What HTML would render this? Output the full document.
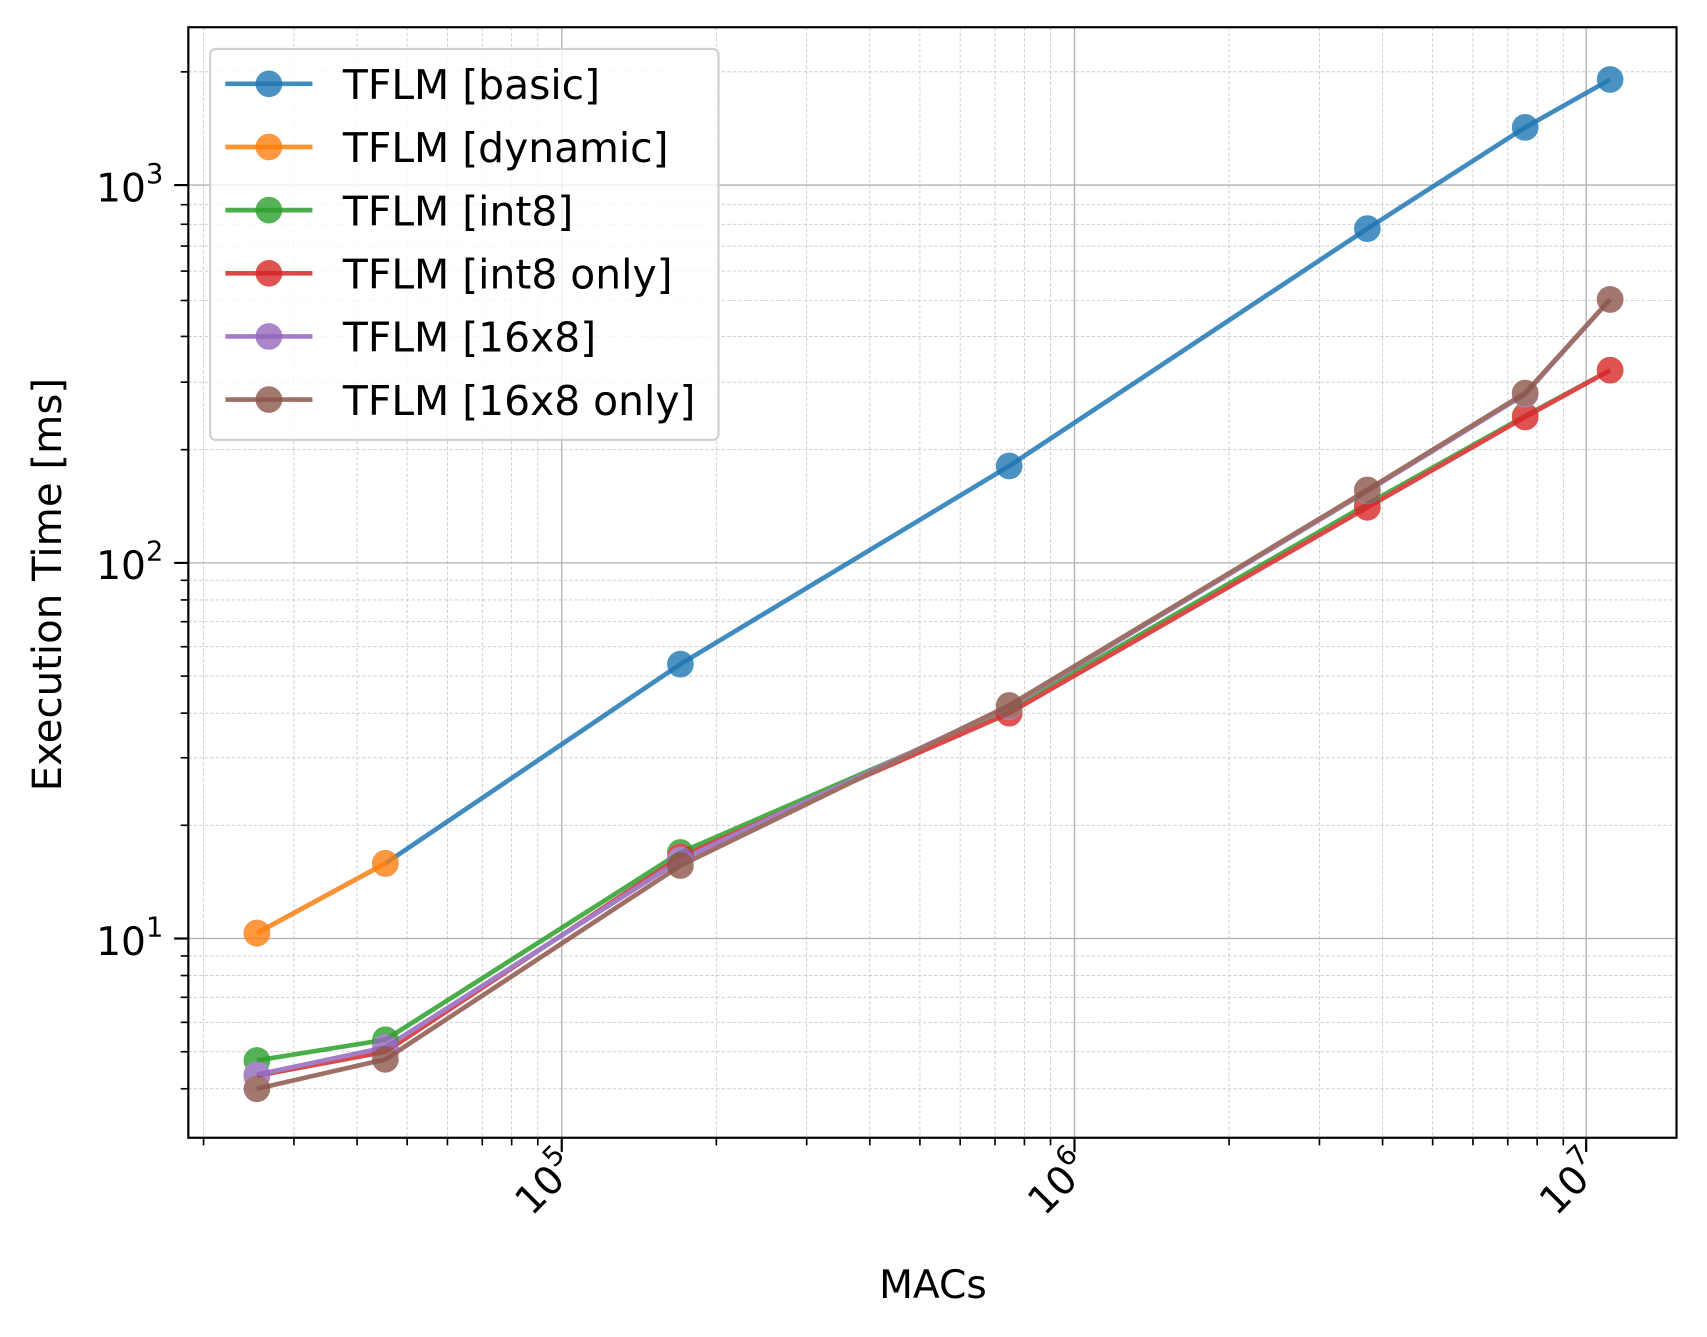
<!DOCTYPE html>
<html><head><meta charset="utf-8"><style>
html,body{margin:0;padding:0;background:#fff}
svg{display:block}
text{font-family:"DejaVu Sans","Liberation Sans",sans-serif;fill:#000}
</style></head><body>
<svg width="1707" height="1337" viewBox="0 0 1568 1228" preserveAspectRatio="none" xmlns="http://www.w3.org/2000/svg">
<rect width="1568" height="1228" fill="#fff"/>
<defs><clipPath id="c"><rect x="173" y="25" width="1367" height="1020"/></clipPath></defs>
<g clip-path="url(#c)">
<g stroke="#c8c8c8" stroke-width="0.8" stroke-dasharray="3,2">
<line x1="187" y1="25" x2="187" y2="1045"/><line x1="270" y1="25" x2="270" y2="1045"/><line x1="328" y1="25" x2="328" y2="1045"/><line x1="374" y1="25" x2="374" y2="1045"/><line x1="411" y1="25" x2="411" y2="1045"/><line x1="443" y1="25" x2="443" y2="1045"/><line x1="470" y1="25" x2="470" y2="1045"/><line x1="494" y1="25" x2="494" y2="1045"/>
<line x1="658" y1="25" x2="658" y2="1045"/><line x1="741" y1="25" x2="741" y2="1045"/><line x1="799" y1="25" x2="799" y2="1045"/><line x1="845" y1="25" x2="845" y2="1045"/><line x1="882" y1="25" x2="882" y2="1045"/><line x1="914" y1="25" x2="914" y2="1045"/><line x1="941" y1="25" x2="941" y2="1045"/><line x1="965" y1="25" x2="965" y2="1045"/>
<line x1="1129" y1="25" x2="1129" y2="1045"/><line x1="1212" y1="25" x2="1212" y2="1045"/><line x1="1270" y1="25" x2="1270" y2="1045"/><line x1="1316" y1="25" x2="1316" y2="1045"/><line x1="1353" y1="25" x2="1353" y2="1045"/><line x1="1385" y1="25" x2="1385" y2="1045"/><line x1="1412" y1="25" x2="1412" y2="1045"/><line x1="1436" y1="25" x2="1436" y2="1045"/>
<line x1="173" y1="1000" x2="1540" y2="1000"/><line x1="173" y1="966" x2="1540" y2="966"/><line x1="173" y1="939" x2="1540" y2="939"/><line x1="173" y1="916" x2="1540" y2="916"/><line x1="173" y1="896" x2="1540" y2="896"/><line x1="173" y1="878" x2="1540" y2="878"/>
<line x1="173" y1="758" x2="1540" y2="758"/><line x1="173" y1="696" x2="1540" y2="696"/><line x1="173" y1="655" x2="1540" y2="655"/><line x1="173" y1="621" x2="1540" y2="621"/><line x1="173" y1="594" x2="1540" y2="594"/><line x1="173" y1="571" x2="1540" y2="571"/><line x1="173" y1="551" x2="1540" y2="551"/><line x1="173" y1="533" x2="1540" y2="533"/>
<line x1="173" y1="413" x2="1540" y2="413"/><line x1="173" y1="351" x2="1540" y2="351"/><line x1="173" y1="309" x2="1540" y2="309"/><line x1="173" y1="276" x2="1540" y2="276"/><line x1="173" y1="249" x2="1540" y2="249"/><line x1="173" y1="226" x2="1540" y2="226"/><line x1="173" y1="206" x2="1540" y2="206"/><line x1="173" y1="188" x2="1540" y2="188"/>
<line x1="173" y1="66" x2="1540" y2="66"/>
</g>
<g stroke="#b0b0b0" stroke-width="1.2">
<line x1="516" y1="25" x2="516" y2="1045"/><line x1="987" y1="25" x2="987" y2="1045"/><line x1="1457" y1="25" x2="1457" y2="1045"/>
<line x1="173" y1="170" x2="1540" y2="170"/><line x1="173" y1="517" x2="1540" y2="517"/><line x1="173" y1="862" x2="1540" y2="862"/>
</g>
<g stroke-width="4.3" fill="none" stroke-linejoin="round" opacity="0.85">
<polyline stroke="#1f77b4" points="236,857 354,793 625,610 927,428 1256,210 1401,117 1479,73"/>
<polyline stroke="#ff7f0e" points="236,857 354,793"/>
<polyline stroke="#2ca02c" points="236,974 354,955 625,783 927,652 1256,463 1401,382 1479,340"/>
<polyline stroke="#d62728" points="236,988 354,966 625,787 927,655 1256,466 1401,383 1479,340"/>
<polyline stroke="#9467bd" points="236,987 354,962 625,790 927,649 1256,451 1401,362 1479,275"/>
<polyline stroke="#8c564b" points="236,1000 354,973 625,795 927,648 1256,450 1401,361 1479,275"/>
</g>
<g stroke-width="2.5" opacity="0.8">
<g fill="#1f77b4" stroke="#1f77b4"><circle cx="236" cy="857" r="11"/><circle cx="354" cy="793" r="11"/><circle cx="625" cy="610" r="11"/><circle cx="927" cy="428" r="11"/><circle cx="1256" cy="210" r="11"/><circle cx="1401" cy="117" r="11"/><circle cx="1479" cy="73" r="11"/></g>
<g fill="#ff7f0e" stroke="#ff7f0e"><circle cx="236" cy="857" r="11"/><circle cx="354" cy="793" r="11"/></g>
<g fill="#2ca02c" stroke="#2ca02c"><circle cx="236" cy="974" r="11"/><circle cx="354" cy="955" r="11"/><circle cx="625" cy="783" r="11"/><circle cx="927" cy="652" r="11"/><circle cx="1256" cy="463" r="11"/><circle cx="1401" cy="382" r="11"/><circle cx="1479" cy="340" r="11"/></g>
<g fill="#d62728" stroke="#d62728"><circle cx="236" cy="988" r="11"/><circle cx="354" cy="966" r="11"/><circle cx="625" cy="787" r="11"/><circle cx="927" cy="655" r="11"/><circle cx="1256" cy="466" r="11"/><circle cx="1401" cy="383" r="11"/><circle cx="1479" cy="340" r="11"/></g>
<g fill="#9467bd" stroke="#9467bd"><circle cx="236" cy="987" r="11"/><circle cx="354" cy="962" r="11"/><circle cx="625" cy="790" r="11"/><circle cx="927" cy="649" r="11"/><circle cx="1256" cy="451" r="11"/><circle cx="1401" cy="362" r="11"/><circle cx="1479" cy="275" r="11"/></g>
<g fill="#8c564b" stroke="#8c564b"><circle cx="236" cy="1000" r="11"/><circle cx="354" cy="973" r="11"/><circle cx="625" cy="795" r="11"/><circle cx="927" cy="648" r="11"/><circle cx="1256" cy="450" r="11"/><circle cx="1401" cy="361" r="11"/><circle cx="1479" cy="275" r="11"/></g>
</g>
</g>
<rect x="173" y="25" width="1367" height="1020" fill="none" stroke="#000" stroke-width="2"/>
<g stroke="#000" stroke-width="2">
<line x1="516" y1="1045" x2="516" y2="1058"/><line x1="987" y1="1045" x2="987" y2="1058"/><line x1="1457" y1="1045" x2="1457" y2="1058"/>
<line x1="173" y1="170" x2="160" y2="170"/><line x1="173" y1="517" x2="160" y2="517"/><line x1="173" y1="862" x2="160" y2="862"/>
</g>
<g stroke="#000" stroke-width="1.5">
<line x1="187" y1="1045" x2="187" y2="1052"/><line x1="270" y1="1045" x2="270" y2="1052"/><line x1="328" y1="1045" x2="328" y2="1052"/><line x1="374" y1="1045" x2="374" y2="1052"/><line x1="411" y1="1045" x2="411" y2="1052"/><line x1="443" y1="1045" x2="443" y2="1052"/><line x1="470" y1="1045" x2="470" y2="1052"/><line x1="494" y1="1045" x2="494" y2="1052"/>
<line x1="658" y1="1045" x2="658" y2="1052"/><line x1="741" y1="1045" x2="741" y2="1052"/><line x1="799" y1="1045" x2="799" y2="1052"/><line x1="845" y1="1045" x2="845" y2="1052"/><line x1="882" y1="1045" x2="882" y2="1052"/><line x1="914" y1="1045" x2="914" y2="1052"/><line x1="941" y1="1045" x2="941" y2="1052"/><line x1="965" y1="1045" x2="965" y2="1052"/>
<line x1="1129" y1="1045" x2="1129" y2="1052"/><line x1="1212" y1="1045" x2="1212" y2="1052"/><line x1="1270" y1="1045" x2="1270" y2="1052"/><line x1="1316" y1="1045" x2="1316" y2="1052"/><line x1="1353" y1="1045" x2="1353" y2="1052"/><line x1="1385" y1="1045" x2="1385" y2="1052"/><line x1="1412" y1="1045" x2="1412" y2="1052"/><line x1="1436" y1="1045" x2="1436" y2="1052"/>
<line x1="173" y1="1000" x2="166" y2="1000"/><line x1="173" y1="966" x2="166" y2="966"/><line x1="173" y1="939" x2="166" y2="939"/><line x1="173" y1="916" x2="166" y2="916"/><line x1="173" y1="896" x2="166" y2="896"/><line x1="173" y1="878" x2="166" y2="878"/>
<line x1="173" y1="758" x2="166" y2="758"/><line x1="173" y1="696" x2="166" y2="696"/><line x1="173" y1="655" x2="166" y2="655"/><line x1="173" y1="621" x2="166" y2="621"/><line x1="173" y1="594" x2="166" y2="594"/><line x1="173" y1="571" x2="166" y2="571"/><line x1="173" y1="551" x2="166" y2="551"/><line x1="173" y1="533" x2="166" y2="533"/>
<line x1="173" y1="413" x2="166" y2="413"/><line x1="173" y1="351" x2="166" y2="351"/><line x1="173" y1="309" x2="166" y2="309"/><line x1="173" y1="276" x2="166" y2="276"/><line x1="173" y1="249" x2="166" y2="249"/><line x1="173" y1="226" x2="166" y2="226"/><line x1="173" y1="206" x2="166" y2="206"/><line x1="173" y1="188" x2="166" y2="188"/>
<line x1="173" y1="66" x2="166" y2="66"/>
</g>
<g font-size="36" text-anchor="end">
<text x="150" y="185">10<tspan font-size="25" dy="-17">3</tspan></text>
<text x="150" y="532">10<tspan font-size="25" dy="-17">2</tspan></text>
<text x="150" y="877">10<tspan font-size="25" dy="-17">1</tspan></text>
</g>
<g font-size="36" text-anchor="end">
<text transform="translate(532,1074) rotate(-45)">10<tspan font-size="25" dy="-17">5</tspan></text>
<text transform="translate(1003,1074) rotate(-45)">10<tspan font-size="25" dy="-17">6</tspan></text>
<text transform="translate(1473,1074) rotate(-45)">10<tspan font-size="25" dy="-17">7</tspan></text>
</g>
<text x="857" y="1192" font-size="36" text-anchor="middle">MACs</text>
<text transform="translate(56,537) rotate(-90)" font-size="37" text-anchor="middle">Execution Time [ms]</text>
<rect x="193" y="45" width="467" height="359" rx="5" fill="#fff" fill-opacity="0.8" stroke="#d0d0d0" stroke-width="2"/>
<g stroke-width="4.3" opacity="0.85">
<line x1="207" y1="77" x2="287" y2="77" stroke="#1f77b4"/>
<line x1="207" y1="135" x2="287" y2="135" stroke="#ff7f0e"/>
<line x1="207" y1="193" x2="287" y2="193" stroke="#2ca02c"/>
<line x1="207" y1="251" x2="287" y2="251" stroke="#d62728"/>
<line x1="207" y1="309" x2="287" y2="309" stroke="#9467bd"/>
<line x1="207" y1="367" x2="287" y2="367" stroke="#8c564b"/>
</g>
<g stroke-width="2.5" opacity="0.8">
<circle cx="247" cy="77" r="11" fill="#1f77b4" stroke="#1f77b4"/>
<circle cx="247" cy="135" r="11" fill="#ff7f0e" stroke="#ff7f0e"/>
<circle cx="247" cy="193" r="11" fill="#2ca02c" stroke="#2ca02c"/>
<circle cx="247" cy="251" r="11" fill="#d62728" stroke="#d62728"/>
<circle cx="247" cy="309" r="11" fill="#9467bd" stroke="#9467bd"/>
<circle cx="247" cy="367" r="11" fill="#8c564b" stroke="#8c564b"/>
</g>
<g font-size="37.5">
<text x="315" y="91">TFLM [basic]</text>
<text x="315" y="149">TFLM [dynamic]</text>
<text x="315" y="207">TFLM [int8]</text>
<text x="315" y="265">TFLM [int8 only]</text>
<text x="315" y="323">TFLM [16x8]</text>
<text x="315" y="381">TFLM [16x8 only]</text>
</g>
</svg>
</body></html>
